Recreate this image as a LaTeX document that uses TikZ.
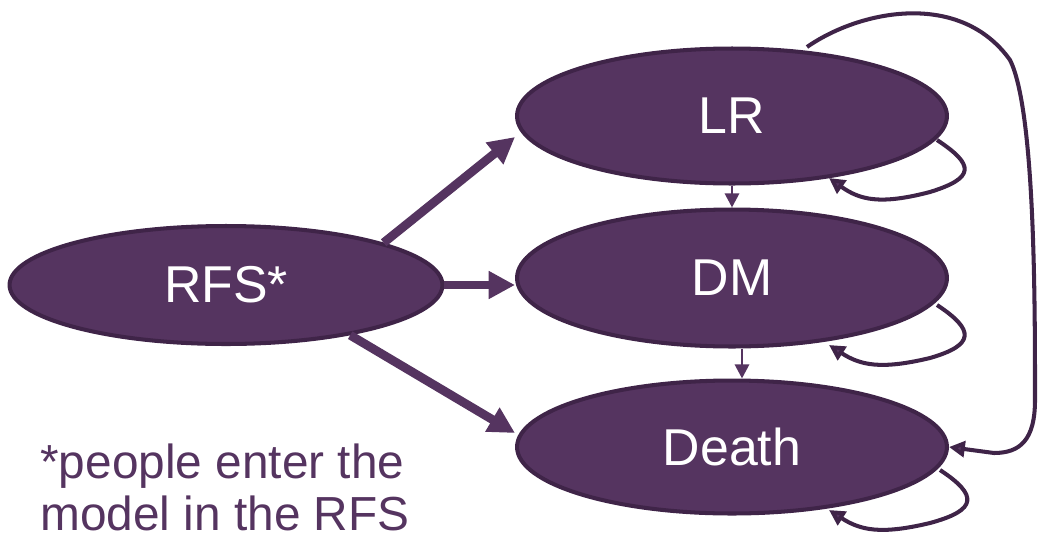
\documentclass[tikz,border=0pt]{standalone}
\usepackage{fontspec}
\setmainfont{Liberation Sans}
\usetikzlibrary{arrows.meta,shapes.geometric}
\definecolor{pfill}{HTML}{553460}
\definecolor{pedge}{HTML}{3F2448}
\begin{document}
\begin{tikzpicture}[x=0.02cm,y=-0.02cm,
  state/.style={ellipse,draw=pedge,line width=2.3pt,fill=pfill,text=white,font=\fontsize{29.5}{32}\selectfont,inner sep=0pt},
  bigarrow/.style={draw=pfill,line width=5pt,-{Triangle[length=15pt,width=15pt]}},
  smallarrow/.style={draw=pfill,line width=1.6pt,-{Triangle[length=8pt,width=8pt]}},
  loop/.style={draw=pedge,line width=2.3pt,-{Triangle[length=9pt,width=9pt,fill=pfill]}},
  note/.style={anchor=base west,inner sep=0pt,text=pfill,font=\fontsize{27.2}{30}\selectfont}]
\useasboundingbox (0,0) rectangle (1038,538);
\node[state,minimum width=8.6cm,minimum height=2.7cm] (lr) at (732,116) {LR};
\node[state,minimum width=8.6cm,minimum height=2.74cm] (dm) at (732,278) {DM};
\node[state,minimum width=8.6cm,minimum height=2.66cm] (death) at (732,447) {Death};
\node[state,minimum width=8.66cm,minimum height=2.36cm] (rfs) at (226,285) {RFS*};
\draw[bigarrow] (rfs.15) -- ([yshift=-0.42cm]lr.west);
\draw[bigarrow] (rfs.east) -- (rfs.east -| dm.west);
\draw[bigarrow] (rfs.-22) -- ([yshift=0.28cm]death.west);
\draw[smallarrow] (lr.south) -- (dm.north);
\draw[smallarrow] ([xshift=0.2cm]dm.south) -- ([xshift=0.2cm]death.north);
\coordinate (l1) at (937,140);
\coordinate (l2) at (829,178);
\draw[loop] (l1) .. controls (975,165) and (975,178) .. (930,192) .. controls (880,205) and (860,200) .. (l2);
\coordinate (d1) at (937,305);
\coordinate (d2) at (829,345);
\draw[loop] (d1) .. controls (975,330) and (975,345) .. (930,358) .. controls (880,370) and (860,365) .. (d2);
\coordinate (e1) at (940,470);
\coordinate (e2) at (829,510);
\draw[loop] (e1) .. controls (978,495) and (978,510) .. (930,523) .. controls (880,535) and (860,530) .. (e2);
\coordinate (b1) at (807,47);
\draw[loop] (b1) .. controls (860,10) and (960,-10) .. (1010,60) .. controls (1035,110) and (1035,300) .. (1035,400) .. controls (1035,440) and (1020,453) .. (994,453) -- (death.east);
\node[note] (n1) at (40,478) {*people enter the};
\node[note] (n2) at (40,530) {model in the RFS};
\end{tikzpicture}
\end{document}
